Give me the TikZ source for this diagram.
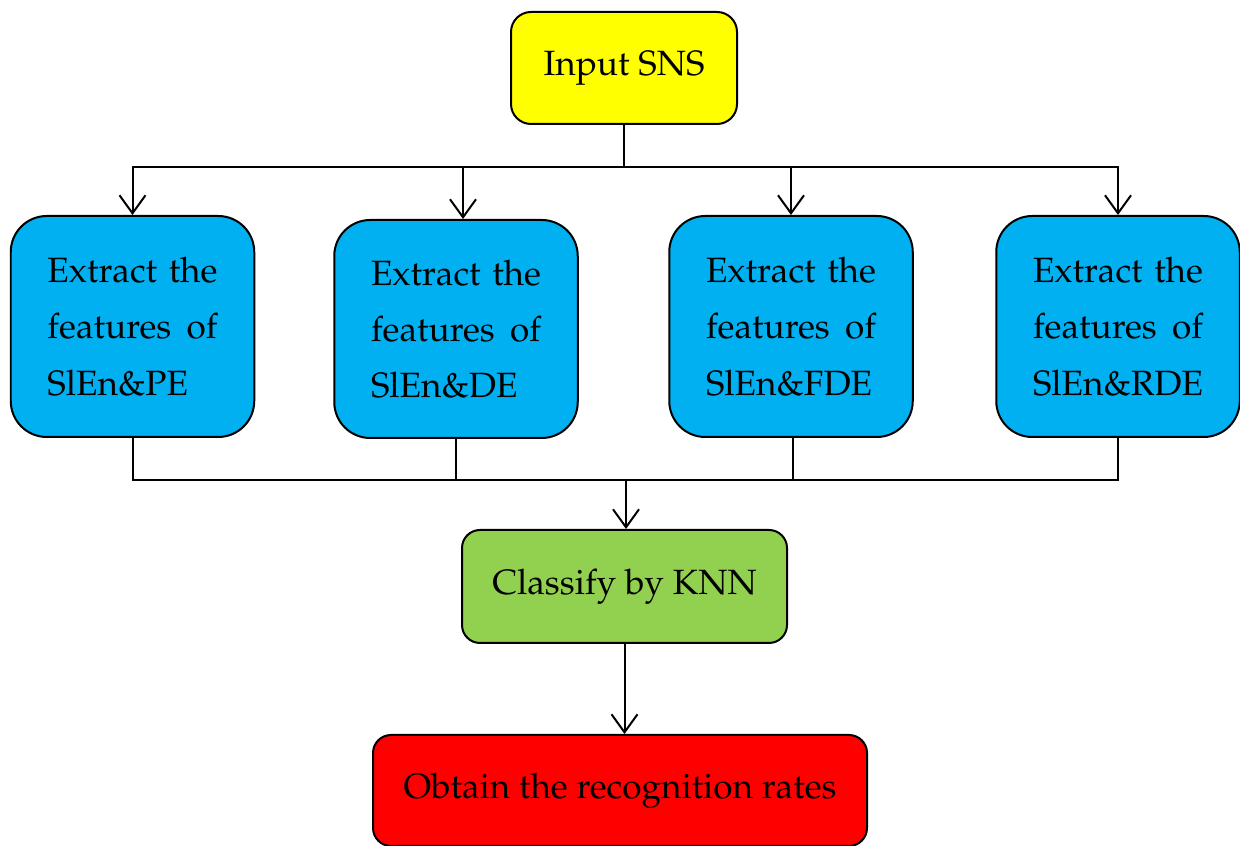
\documentclass[tikz,border=0pt]{standalone}
\usepackage[T1]{fontenc}
\usepackage{mathpazo}
\usetikzlibrary{arrows.meta}
\definecolor{boxyellow}{HTML}{FFFF00}
\definecolor{boxblue}{HTML}{00B0F0}
\definecolor{boxgreen}{HTML}{92D050}
\definecolor{boxred}{HTML}{FF0000}
\tikzset{
	box/.style={draw=black, line width=0.04cm, rounded corners=0.4cm, inner sep=0pt, font=\fontsize{20}{32}\selectfont},
	featbox/.style={box, fill=boxblue, rounded corners=0.72cm, minimum width=4.87cm, minimum height=4.42cm, text width=3.4cm, align=left},
	link/.style={line width=0.04cm},
	arr/.style={link, -{Straight Barb[length=0.36cm,width=0.52cm]}}
}

\begin{document}
\begin{tikzpicture}
			%%%%% START %%%%%
			\useasboundingbox (0, 0) rectangle (24.8, 16.92);
			
			\node[box, fill=boxyellow, minimum width=4.52cm, minimum height=2.24cm] (sns) at (12.48, 15.56) {Input SNS};
			
			\node[featbox] (pe) at (2.65, 10.39) {Extract\hfill the\\features\hfill of\\SlEn\&PE};
			\node[featbox, minimum height=4.36cm] (de) at (9.12, 10.34) {Extract\hfill the\\features\hfill of\\SlEn\&DE};
			\node[featbox] (fde) at (15.82, 10.39) {Extract\hfill the\\features\hfill of\\SlEn\&FDE};
			\node[featbox] (rde) at (22.36, 10.39) {Extract\hfill the\\features\hfill of\\SlEn\&RDE};
			
			\node[box, fill=boxgreen, rounded corners=0.36cm, minimum width=6.5cm, minimum height=2.26cm] (knn) at (12.49, 5.19) {Classify by KNN};
			\node[box, fill=boxred, rounded corners=0.36cm, minimum width=9.88cm, minimum height=2.22cm] (rates) at (12.40, 1.11) {Obtain the recognition rates};
			
			\coordinate (topbus) at (12.48, 13.58);
			\coordinate (botbus) at (12.52, 7.32);
			
			\draw[link] (sns) -- (topbus);
			\draw[arr] (topbus) -| (pe.north);
			\draw[arr] (topbus) -| ([xshift=0.14cm]de.north);
			\draw[arr] (topbus) -| (fde.north);
			\draw[arr] (topbus) -| (rde.north);
			
			\draw[link] (pe.south) |- (botbus);
			\draw[link] (de.south) |- (botbus);
			\draw[link] ([xshift=0.04cm]fde.south) |- (botbus);
			\draw[link] (rde.south) |- (botbus);
			\draw[arr] (botbus) -- (botbus |- knn.north);
			
			\draw[arr] (knn) -- (knn.south |- rates.north);
			%%%%% END %%%%%
		\end{tikzpicture}
\end{document}
